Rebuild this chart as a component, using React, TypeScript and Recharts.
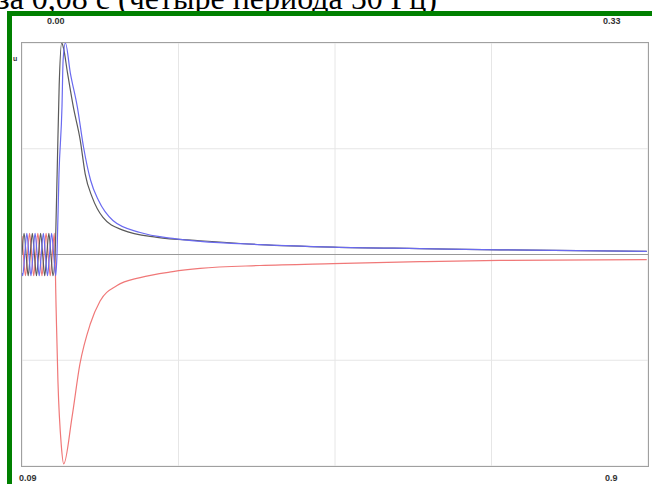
import React from "react";
import { LineChart, Line, XAxis, YAxis, CartesianGrid, ReferenceLine } from "recharts";

// time in ms (fault at 0), value in relative units
const blackData = [
  { t: -80, v: 0 }, { t: -75, v: 0.1 }, { t: -70, v: 0 }, { t: -65, v: -0.1 },
  { t: -60, v: 0 }, { t: -55, v: 0.1 }, { t: -50, v: 0 }, { t: -45, v: -0.1 },
  { t: -40, v: 0 }, { t: -35, v: 0.1 }, { t: -30, v: 0 }, { t: -25, v: -0.1 },
  { t: -20, v: 0 }, { t: -15, v: 0.1 }, { t: -10, v: 0 }, { t: -5, v: -0.1 },
  { t: 0, v: 0 }, { t: 5, v: 0.38 }, { t: 10, v: 0.8 }, { t: 16, v: 1.0 },
  { t: 20, v: 0.98 }, { t: 30, v: 0.86 }, { t: 44, v: 0.7 }, { t: 61, v: 0.54 },
  { t: 73, v: 0.38 }, { t: 90, v: 0.27 }, { t: 116, v: 0.175 }, { t: 164, v: 0.115 },
  { t: 247, v: 0.081 }, { t: 351, v: 0.065 }, { t: 496, v: 0.047 }, { t: 673, v: 0.035 },
  { t: 883, v: 0.028 }, { t: 1077, v: 0.022 }, { t: 1432, v: 0.015 },
];

const blueData = [
  { t: -80, v: -0.087 }, { t: -78.33, v: -0.1 }, { t: -73.33, v: 0 }, { t: -68.33, v: 0.1 },
  { t: -63.33, v: 0 }, { t: -58.33, v: -0.1 }, { t: -53.33, v: 0 }, { t: -48.33, v: 0.1 },
  { t: -43.33, v: 0 }, { t: -38.33, v: -0.1 }, { t: -33.33, v: 0 }, { t: -28.33, v: 0.1 },
  { t: -23.33, v: 0 }, { t: -18.33, v: -0.1 }, { t: -13.33, v: 0 }, { t: -8.33, v: 0.1 },
  { t: -3.33, v: 0 }, { t: 1.67, v: -0.1 }, { t: 4.7, v: 0 }, { t: 9.5, v: 0.38 },
  { t: 16.8, v: 0.7 }, { t: 19.5, v: 0.92 }, { t: 25, v: 1.0 }, { t: 37, v: 0.858 },
  { t: 54, v: 0.697 }, { t: 69, v: 0.507 }, { t: 86, v: 0.351 }, { t: 105, v: 0.256 },
  { t: 140, v: 0.161 }, { t: 206, v: 0.104 }, { t: 285, v: 0.076 }, { t: 351, v: 0.062 },
  { t: 496, v: 0.047 }, { t: 673, v: 0.035 }, { t: 883, v: 0.028 }, { t: 1077, v: 0.022 },
  { t: 1432, v: 0.015 },
];

const redData = [
  { t: -80, v: 0.087 }, { t: -76.67, v: 0 }, { t: -71.67, v: -0.1 }, { t: -66.67, v: 0 },
  { t: -61.67, v: 0.1 }, { t: -56.67, v: 0 }, { t: -51.67, v: -0.1 }, { t: -46.67, v: 0 },
  { t: -41.67, v: 0.1 }, { t: -36.67, v: 0 }, { t: -31.67, v: -0.1 }, { t: -26.67, v: 0 },
  { t: -21.67, v: 0.1 }, { t: -16.67, v: 0 }, { t: -11.67, v: -0.1 }, { t: -6.67, v: 0 },
  { t: -1.67, v: 0.1 }, { t: 2.5, v: -0.25 }, { t: 7, v: -0.6 }, { t: 15, v: -0.9 },
  { t: 21, v: -0.99 }, { t: 41, v: -0.77 }, { t: 60, v: -0.52 }, { t: 85, v: -0.33 },
  { t: 109, v: -0.22 }, { t: 150, v: -0.147 }, { t: 206, v: -0.109 }, { t: 285, v: -0.081 },
  { t: 351, v: -0.066 }, { t: 496, v: -0.052 }, { t: 673, v: -0.043 }, { t: 883, v: -0.034 },
  { t: 1077, v: -0.028 }, { t: 1432, v: -0.024 },
];

const xDomain = [-80, 1435];
const xGrid = [298.75, 677.5, 1056.25];
const yGrid = [-0.5, 0.5];

const title = "за 0,08 с (четыре периода 50 Гц)";
const topLeftLabel = "0.00";
const topRightLabel = "0.33";
const bottomLeftLabel = "0.09";
const bottomRightLabel = "0.9";

const small: React.CSSProperties = {
  position: "absolute",
  fontFamily: "'Liberation Sans', Arial, sans-serif",
  fontWeight: "bold",
  fontSize: 9,
  lineHeight: "9px",
  color: "#333",
  whiteSpace: "nowrap",
};

export default function App() {
  return (
    <div style={{ position: "absolute", left: 0, top: 0, width: 652, height: 484, overflow: "hidden", background: "#fff" }}>
      <div
        style={{
          position: "absolute",
          left: -3,
          top: -18,
          fontFamily: "'Liberation Serif', 'Times New Roman', serif",
          fontSize: 32,
          lineHeight: "32px",
          whiteSpace: "nowrap",
          color: "#000",
        }}
      >
        {title}
      </div>
      <div
        style={{
          position: "absolute",
          left: 7,
          top: 11,
          width: 700,
          height: 500,
          borderTop: "5px solid #008000",
          borderLeft: "5px solid #008000",
        }}
      />
      <div style={{ position: "absolute", left: 0, top: 0 }}>
        <LineChart width={652} height={484} margin={{ top: 43, left: 22, right: 4, bottom: 18 }}>
          <CartesianGrid stroke="#e6e6e6" />
          <XAxis dataKey="t" type="number" domain={xDomain} ticks={xGrid} allowDataOverflow hide />
          <YAxis type="number" domain={[-1, 1]} ticks={yGrid} allowDataOverflow hide />
          <ReferenceLine y={0} stroke="#999" strokeWidth={1.2} />
          <Line data={redData} dataKey="v" type="monotone" stroke="#f07878" strokeWidth={1.2} dot={false} isAnimationActive={false} />
          <Line data={blackData} dataKey="v" type="monotone" stroke="#5a5a5a" strokeWidth={1.2} dot={false} isAnimationActive={false} />
          <Line data={blueData} dataKey="v" type="monotone" stroke="#6a6af0" strokeWidth={1.2} dot={false} isAnimationActive={false} />
        </LineChart>
      </div>
      <div
        style={{
          position: "absolute",
          left: 21,
          top: 42,
          width: 626,
          height: 423,
          border: "1.5px solid #a0a0a0",
          pointerEvents: "none",
        }}
      />
      <div style={{ ...small, left: 47, top: 17 }}>{topLeftLabel}</div>
      <div style={{ ...small, left: 603, top: 17 }}>{topRightLabel}</div>
      <div style={{ ...small, left: 19, top: 474 }}>{bottomLeftLabel}</div>
      <div style={{ ...small, left: 605, top: 474 }}>{bottomRightLabel}</div>
      <div style={{ ...small, left: 13, top: 54, fontSize: 7 }}>u</div>
    </div>
  );
}
